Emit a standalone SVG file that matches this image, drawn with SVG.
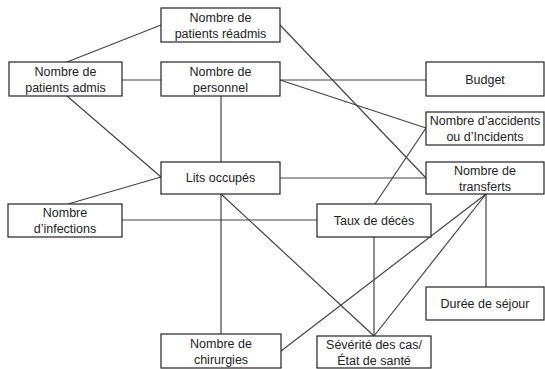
<svg xmlns="http://www.w3.org/2000/svg" width="545" height="369" viewBox="0 0 545 369">
<style>
.box{fill:#fff;stroke:#222;stroke-width:1.2}
.t{font-family:"Liberation Sans",Arial,sans-serif;font-size:12.5px;fill:#222;text-anchor:middle}
.c line{stroke:#444;stroke-width:1.2}
</style>
<rect width="545" height="369" fill="#fff"/>
<g class="c" id="connectors">
<line x1="67" y1="62" x2="161" y2="25"/>
<line x1="122" y1="80" x2="161" y2="80"/>
<line x1="67" y1="96" x2="161" y2="177"/>
<line x1="221" y1="96" x2="221" y2="162"/>
<line x1="68" y1="204" x2="161" y2="177"/>
<line x1="122" y1="220" x2="317" y2="220"/>
<line x1="221" y1="194" x2="221" y2="334"/>
<line x1="221" y1="194" x2="374" y2="336"/>
<line x1="280" y1="178" x2="426" y2="178"/>
<line x1="280" y1="25" x2="426" y2="178"/>
<line x1="280" y1="80" x2="426" y2="80"/>
<line x1="280" y1="80" x2="426" y2="128"/>
<line x1="375" y1="204" x2="426" y2="128"/>
<line x1="486" y1="194" x2="486" y2="287"/>
<line x1="486" y1="194" x2="281" y2="351"/>
<line x1="486" y1="194" x2="374" y2="336"/>
<line x1="374" y1="237" x2="374" y2="336"/>
</g>
<g id="readmis"><rect class="box" x="161" y="8" width="119" height="34"/><text class="t" x="220.5" y="22">Nombre de</text><text class="t" x="220.5" y="37.5">patients réadmis</text></g>
<g id="admis"><rect class="box" x="9" y="62" width="113" height="34"/><text class="t" x="65.5" y="76">Nombre de</text><text class="t" x="65.5" y="91.5">patients admis</text></g>
<g id="personnel"><rect class="box" x="161" y="62" width="119" height="34"/><text class="t" x="220.5" y="76">Nombre de</text><text class="t" x="220.5" y="91.5">personnel</text></g>
<g id="budget"><rect class="box" x="426" y="62" width="118" height="34"/><text class="t" x="485" y="83.5">Budget</text></g>
<g id="accidents"><rect class="box" x="426" y="112" width="118" height="33"/><text class="t" x="485" y="125">Nombre d’accidents</text><text class="t" x="485" y="140.5">ou d’Incidents</text></g>
<g id="lits"><rect class="box" x="161" y="162" width="119" height="32"/><text class="t" x="220.5" y="182">Lits occupés</text></g>
<g id="transferts"><rect class="box" x="426" y="162" width="118" height="32"/><text class="t" x="485" y="175">Nombre de</text><text class="t" x="485" y="190.5">transferts</text></g>
<g id="infections"><rect class="box" x="8" y="204" width="114" height="33"/><text class="t" x="65" y="217">Nombre</text><text class="t" x="65" y="232.5">d’infections</text></g>
<g id="taux"><rect class="box" x="317" y="204" width="114" height="33"/><text class="t" x="374" y="224.5">Taux de décès</text></g>
<g id="duree"><rect class="box" x="426" y="287" width="118" height="33"/><text class="t" x="485" y="307.5">Durée de séjour</text></g>
<g id="chirurgies"><rect class="box" x="161" y="334" width="120" height="34"/><text class="t" x="221" y="348">Nombre de</text><text class="t" x="221" y="363.5">chirurgies</text></g>
<g id="severite"><rect class="box" x="317" y="336" width="114" height="32"/><text class="t" x="374" y="349">Sévérité des cas/</text><text class="t" x="374" y="364.5">État de santé</text></g>
</svg>
